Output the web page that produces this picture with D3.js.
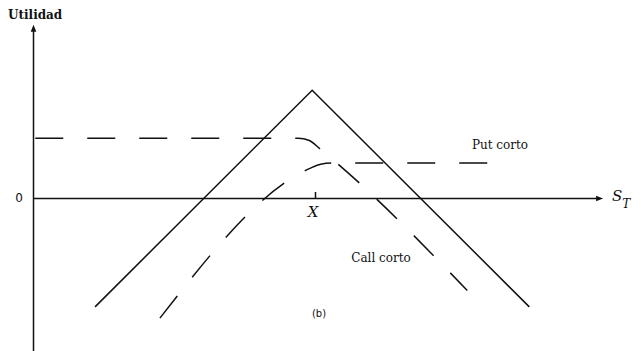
<!DOCTYPE html>
<html>
<head>
<meta charset="utf-8">
<script src="https://cdn.jsdelivr.net/npm/d3@7"></script>
<style>
  body { margin: 0; background: #fff; }
  svg { display: block; }
  text { font-family: 'DejaVu Serif', serif; fill: #111; }
</style>
</head>
<body>
<div id="chart"></div>
<script>
// payoff lines, price S on x, profit on y (arbitrary units)
const strike = 50;
const straddleS = [11, 49.5, 88];
const straddleP = [-19.3, 19.1, -19.3];
// short call: flat premium then falling (drawn dashed)
const callS = [0.4, 47, 49, 51, 77];
const callP = [10.6, 10.6, 10.2, 8.6, -16.4];
// short put: rising then flat premium (drawn dashed)
const putS = [22.5, 49, 51, 53, 82];
const putP = [-21.3, 5.2, 6.0, 6.2, 6.2];

const labels = [
  { text: 'Put corto', s: 82.8, p: 9.4 },
  { text: 'Call corto', s: 61.7, p: -10.6 }
];

const width = 641, height = 351;

const svg = d3.select('#chart').append('svg')
  .attr('width', width)
  .attr('height', height);

// same px per unit on both scales so slopes are 45 deg
const x = d3.scaleLinear().domain([0, 100]).range([33, 597]);
const y = d3.scaleLinear().domain([-27.5, 29.8]).range([353.1, 29.9]);

svg.append('defs').append('marker')
  .attr('id', 'arrow')
  .attr('markerUnits', 'userSpaceOnUse')
  .attr('viewBox', '0 0 10 10')
  .attr('refX', 2)
  .attr('refY', 5)
  .attr('markerWidth', 8)
  .attr('markerHeight', 7)
  .attr('orient', 'auto')
  .append('path')
  .attr('d', 'M0,1 L10,5 L0,9 Z')
  .attr('fill', '#111');

// x axis with the strike tick
const xAxis = svg.append('g')
  .attr('transform', `translate(0,${y(0)})`)
  .call(d3.axisBottom(x).tickValues([strike]).tickSize(-6).tickSizeOuter(0).tickFormat(''));
xAxis.select('.domain').attr('stroke', '#111').attr('stroke-width', 1.5).attr('marker-end', 'url(#arrow)');
xAxis.selectAll('.tick line').attr('stroke', '#111').attr('stroke-width', 1.5);

// y axis with the zero label
const yAxis = svg.append('g')
  .attr('transform', `translate(${x(0)},0)`)
  .call(d3.axisLeft(y).tickValues([0]).tickSize(0).tickSizeOuter(0).tickPadding(10).tickFormat(d3.format('d')));
yAxis.select('.domain').attr('stroke', '#111').attr('stroke-width', 1.5).attr('marker-end', 'url(#arrow)');
yAxis.selectAll('.tick text')
  .style('font-family', "'DejaVu Sans', sans-serif")
  .style('font-size', '12px');

const line = d3.line()
  .x(d => x(d[0]))
  .y(d => y(d[1]))
  .curve(d3.curveMonotoneX);

const zip = (a, b) => a.map((v, i) => [v, b[i]]);

svg.append('path')
  .datum(zip(straddleS, straddleP))
  .attr('d', d3.line().x(d => x(d[0])).y(d => y(d[1])))
  .attr('fill', 'none')
  .attr('stroke', '#111')
  .attr('stroke-width', 1.5);

// dashed legs
[zip(callS, callP), zip(putS, putP)].forEach(pts => {
  svg.append('path')
    .datum(pts)
    .attr('d', line)
    .attr('fill', 'none')
    .attr('stroke', '#111')
    .attr('stroke-width', 1.5)
    .attr('stroke-dasharray', '28,24');
});

labels.forEach(l => {
  svg.append('text')
    .attr('x', x(l.s))
    .attr('y', y(l.p))
    .attr('text-anchor', 'middle')
    .attr('dy', '0.35em')
    .style('font-size', '12px')
    .text(l.text);
});

// axis titles
svg.append('text')
  .attr('x', 8)
  .attr('y', 19)
  .style('font-size', '12px')
  .style('font-weight', 'bold')
  .text('Utilidad');

const st = svg.append('text')
  .attr('x', x(100) + 15)
  .attr('y', y(0) + 3)
  .style('font-size', '15px')
  .style('font-style', 'italic');
st.append('tspan').text('S');
st.append('tspan').attr('dy', 7).style('font-size', '12px').text('T');

svg.append('text')
  .attr('x', x(strike) - 2)
  .attr('y', y(0) + 19)
  .attr('text-anchor', 'middle')
  .style('font-size', '15px')
  .style('font-style', 'italic')
  .text('X');

svg.append('text')
  .attr('x', x(strike) + 4)
  .attr('y', y(0) + 119)
  .attr('text-anchor', 'middle')
  .style('font-family', "'DejaVu Sans', sans-serif")
  .style('font-size', '10px')
  .text('(b)');
</script>
</body>
</html>
